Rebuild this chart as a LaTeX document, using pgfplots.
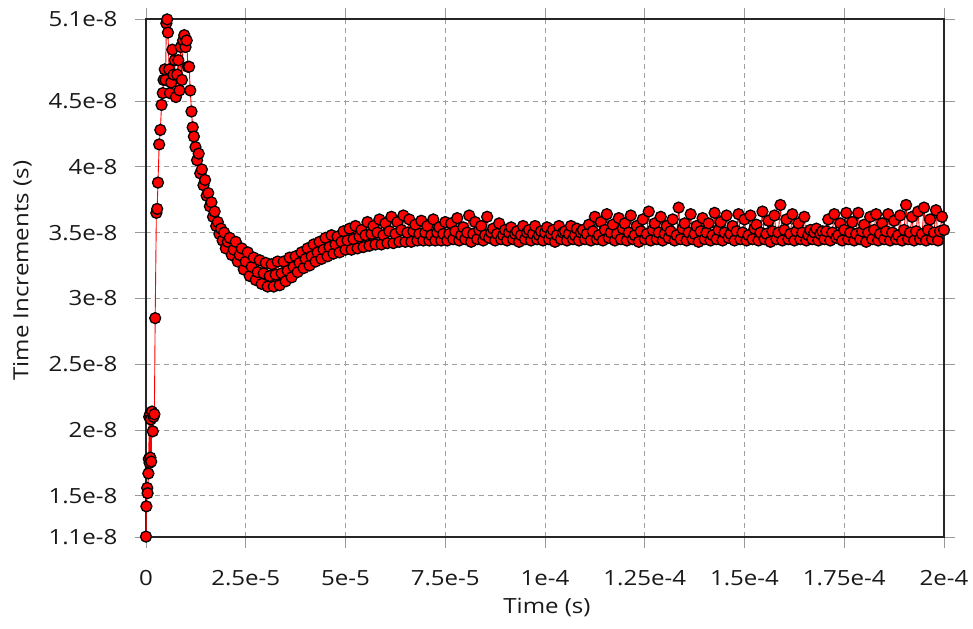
\documentclass[border=0pt]{standalone}
\usepackage{pgfplots}
\pgfplotsset{compat=1.18}
\usepackage{fontspec}
\setmainfont{Open Sans}[FakeStretch=1.15]
\begin{document}
\begin{tikzpicture}
\begin{axis}[
  scale only axis, width=798bp, height=518bp,
  xmin=0, xmax=200, ymin=1.187, ymax=5.123,
  clip=false,
  xtick={0,25,50,75,100,125,150,175,200},
  xticklabels={0,2.5e-5,5e-5,7.5e-5,1e-4,1.25e-4,1.5e-4,1.75e-4,2e-4},
  ytick={1.187,1.5,2,2.5,3,3.5,4,4.5,5.123},
  yticklabels={1.1e-8,1.5e-8,2e-8,2.5e-8,3e-8,3.5e-8,4e-8,4.5e-8,5.1e-8},
  tick align=outside, major tick length=11bp,
  tick style={gray!80, line width=0.8pt},
  axis line style={black!85, line width=1.2pt},
  grid=major,
  major grid style={gray!75, dash pattern=on 5bp off 4bp, line width=0.9pt},
  tick label style={font=\fontsize{21}{25}\selectfont, text=black!90},
  yticklabel style={xshift=-14bp},
  xticklabel style={yshift=-19bp},
  label style={font=\fontsize{21}{25}\selectfont, text=black!90},
  xlabel={Time (s)}, ylabel={Time Increments (s)},
  xlabel style={at={(axis description cs:0.5025,-0.137)}, anchor=center},
  ylabel style={at={(axis description cs:-0.155,0.514)}, anchor=center},
]
\addplot[red, line width=0.9pt, mark=*, mark size=5.5bp,
  mark options={fill=red, draw=black, line width=1.3pt}] table {
t v
0.0 1.19
0.1 1.42
0.3 1.56
0.4 1.52
0.6 1.67
0.7 1.78
0.8 2.10
0.9 1.75
1.0 2.12
1.1 1.79
1.2 2.08
1.3 1.76
1.5 2.14
1.7 1.99
1.9 2.10
2.1 2.12
2.3 2.85
2.6 3.65
2.8 3.68
3.0 3.88
3.3 4.17
3.6 4.28
3.9 4.47
4.2 4.56
4.4 4.66
4.7 4.74
4.9 4.66
5.1 5.09
5.3 5.12
5.5 5.02
5.8 4.74
6.0 4.56
6.3 4.64
6.6 4.89
6.9 4.70
7.2 4.81
7.5 4.53
7.8 4.70
8.1 4.81
8.4 4.58
8.7 4.91
9.0 4.66
9.3 4.96
9.6 5.00
9.9 4.91
10.2 4.96
10.5 4.76
10.8 4.76
11.1 4.58
11.4 4.42
11.7 4.30
12.0 4.23
12.4 4.15
12.8 4.05
13.2 4.10
13.6 3.95
14.0 3.98
14.4 3.86
14.8 3.90
15.2 3.78
15.6 3.80
16.0 3.70
16.4 3.73
16.8 3.62
17.2 3.66
17.6 3.55
18.0 3.58
18.4 3.49
18.8 3.53
19.2 3.44
19.6 3.50
20.0 3.38
20.5 3.43
21.0 3.46
21.5 3.33
22.0 3.37
22.5 3.43
23.0 3.28
23.5 3.33
24.0 3.38
24.5 3.22
25.0 3.28
25.5 3.35
26.0 3.17
26.5 3.24
27.0 3.31
27.5 3.14
28.0 3.20
28.5 3.29
29.0 3.11
29.5 3.19
30.0 3.27
30.5 3.09
31.0 3.17
31.5 3.26
32.0 3.09
32.5 3.18
33.0 3.28
33.5 3.10
34.0 3.19
34.5 3.28
35.0 3.13
35.5 3.21
36.0 3.31
36.5 3.16
37.0 3.24
37.5 3.32
38.0 3.20
38.5 3.27
39.0 3.35
39.5 3.23
40.0 3.30
40.5 3.38
41.0 3.25
41.5 3.32
42.0 3.41
42.5 3.28
43.0 3.35
43.5 3.43
44.0 3.30
44.5 3.37
45.0 3.46
45.5 3.32
46.0 3.39
46.5 3.48
47.0 3.34
47.5 3.41
48.0 3.47
48.5 3.35
49.0 3.43
49.5 3.51
50.0 3.37
50.5 3.44
51.0 3.53
51.5 3.37
52.0 3.45
52.5 3.55
53.0 3.38
53.5 3.47
54.0 3.52
54.5 3.39
55.0 3.48
55.5 3.58
56.0 3.40
56.5 3.49
57.0 3.55
57.5 3.41
58.0 3.50
58.5 3.60
59.0 3.41
59.5 3.48
60.0 3.57
60.5 3.42
61.0 3.51
61.5 3.62
62.0 3.42
62.5 3.49
63.0 3.58
63.5 3.43
64.0 3.52
64.5 3.63
65.0 3.43
65.5 3.50
66.0 3.60
66.5 3.43
67.0 3.51
67.5 3.56
68.0 3.44
68.5 3.49
69.0 3.59
69.5 3.44
70.0 3.50
70.5 3.55
71.0 3.44
71.5 3.48
72.0 3.60
72.5 3.44
73.0 3.50
73.5 3.54
74.0 3.44
74.5 3.49
75.0 3.58
75.5 3.44
76.0 3.49
76.5 3.57
77.0 3.45
77.5 3.51
78.0 3.61
78.5 3.44
79.0 3.48
79.5 3.54
80.0 3.45
80.5 3.50
81.0 3.63
81.5 3.43
82.0 3.49
82.5 3.58
83.0 3.45
83.5 3.52
84.0 3.55
84.5 3.44
85.0 3.48
85.5 3.62
86.0 3.46
86.5 3.50
87.0 3.53
87.5 3.44
88.0 3.49
88.5 3.57
89.0 3.45
89.5 3.48
90.0 3.52
90.5 3.44
91.0 3.50
91.5 3.54
92.0 3.45
92.5 3.49
93.0 3.51
93.5 3.43
94.0 3.48
94.5 3.55
95.0 3.45
95.5 3.50
96.0 3.52
96.5 3.44
97.0 3.49
97.5 3.55
98.0 3.45
98.5 3.48
99.0 3.51
99.5 3.44
100.0 3.50
100.5 3.54
101.0 3.45
101.5 3.49
102.0 3.52
102.5 3.43
103.0 3.48
103.5 3.55
104.0 3.45
104.5 3.50
105.0 3.51
105.5 3.44
106.0 3.49
106.5 3.55
107.0 3.45
107.5 3.48
108.0 3.53
108.5 3.44
109.0 3.50
109.5 3.52
110.0 3.45
110.5 3.49
111.0 3.56
111.5 3.44
112.0 3.51
112.5 3.62
113.0 3.45
113.5 3.48
114.0 3.58
114.5 3.44
115.0 3.52
115.5 3.64
116.0 3.46
116.5 3.50
117.0 3.56
117.5 3.44
118.0 3.49
118.5 3.61
119.0 3.45
119.5 3.53
120.0 3.57
120.5 3.44
121.0 3.50
121.5 3.63
122.0 3.45
122.5 3.48
123.0 3.55
123.5 3.43
124.0 3.51
124.5 3.60
125.0 3.45
125.5 3.49
126.0 3.66
126.5 3.44
127.0 3.52
127.5 3.57
128.0 3.45
128.5 3.50
129.0 3.62
129.5 3.44
130.0 3.49
130.5 3.55
131.0 3.46
131.5 3.51
132.0 3.60
132.5 3.44
133.0 3.48
133.5 3.69
134.0 3.45
134.5 3.53
135.0 3.57
135.5 3.44
136.0 3.50
136.5 3.64
137.0 3.45
137.5 3.49
138.0 3.55
138.5 3.43
139.0 3.51
139.5 3.61
140.0 3.45
140.5 3.50
141.0 3.57
141.5 3.44
142.0 3.48
142.5 3.65
143.0 3.45
143.5 3.52
144.0 3.58
144.5 3.44
145.0 3.50
145.5 3.63
146.0 3.46
146.5 3.49
147.0 3.55
147.5 3.44
148.0 3.51
148.5 3.64
149.0 3.45
149.5 3.50
150.0 3.60
150.5 3.44
151.0 3.48
151.5 3.63
152.0 3.45
152.5 3.53
153.0 3.56
153.5 3.44
154.0 3.50
154.5 3.66
155.0 3.45
155.5 3.49
156.0 3.59
156.5 3.43
157.0 3.51
157.5 3.63
158.0 3.45
158.5 3.50
159.0 3.71
159.5 3.44
160.0 3.52
160.5 3.60
161.0 3.45
161.5 3.49
162.0 3.64
162.5 3.44
163.0 3.51
163.5 3.57
164.0 3.45
164.5 3.50
165.0 3.62
165.5 3.44
166.0 3.48
166.5 3.52
167.0 3.45
167.5 3.50
168.0 3.53
168.5 3.44
169.0 3.49
169.5 3.51
170.0 3.45
170.5 3.51
171.0 3.60
171.5 3.44
172.0 3.50
172.5 3.64
173.0 3.46
173.5 3.48
174.0 3.57
174.5 3.44
175.0 3.52
175.5 3.65
176.0 3.45
176.5 3.50
177.0 3.58
177.5 3.44
178.0 3.49
178.5 3.65
179.0 3.45
179.5 3.51
180.0 3.56
180.5 3.43
181.0 3.50
181.5 3.62
182.0 3.45
182.5 3.52
183.0 3.64
183.5 3.44
184.0 3.49
184.5 3.57
185.0 3.45
185.5 3.51
186.0 3.64
186.5 3.44
187.0 3.50
187.5 3.59
188.0 3.45
188.5 3.48
189.0 3.63
189.5 3.44
190.0 3.52
190.5 3.71
191.0 3.45
191.5 3.50
192.0 3.62
192.5 3.44
193.0 3.51
193.5 3.66
194.0 3.45
194.5 3.49
195.0 3.69
195.5 3.44
196.0 3.52
196.5 3.60
197.0 3.45
197.5 3.50
198.0 3.67
198.5 3.44
199.0 3.51
199.5 3.62
200.0 3.52
};
\end{axis}
\pgfresetboundingbox
\path (current axis.south west) ++(-146bp,-92bp) rectangle ++(973bp,629bp);
\end{tikzpicture}
\end{document}
